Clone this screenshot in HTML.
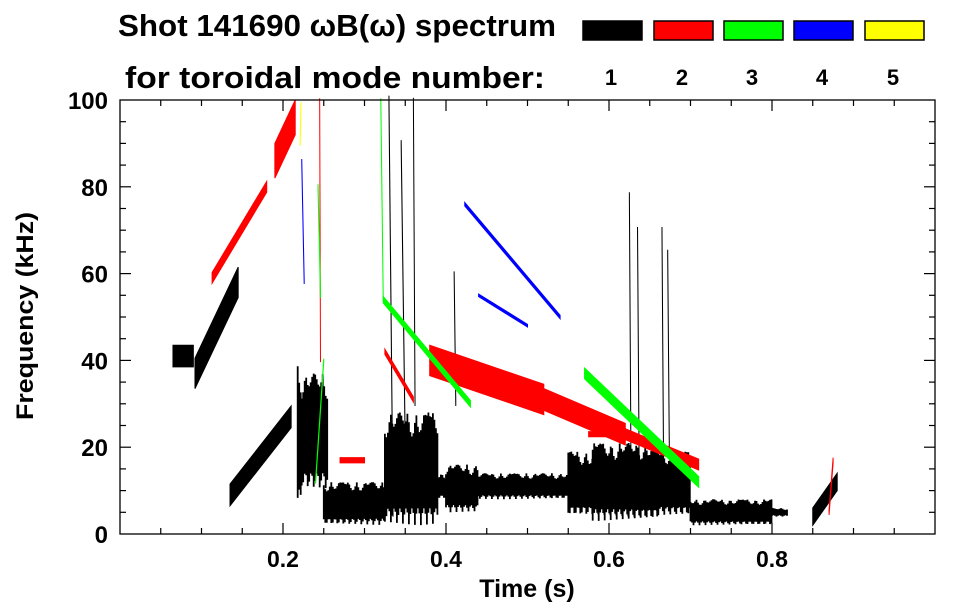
<!DOCTYPE html>
<html><head><meta charset="utf-8"><style>
html,body{margin:0;padding:0;background:#fff;}
svg{display:block;font-family:"Liberation Sans",sans-serif;font-weight:bold;}
</style></head><body>
<svg id="c" width="963" height="615" viewBox="0 0 963 615">
<text x="118" y="36" font-size="31" textLength="438" lengthAdjust="spacingAndGlyphs">Shot 141690 ωB(ω) spectrum</text>
<text x="125" y="88" font-size="31" textLength="420" lengthAdjust="spacingAndGlyphs">for toroidal mode number:</text>
<g id="plot"></g>
<g id="axes"></g>
<g id="legend"></g>
<text x="527" y="597" font-size="25" text-anchor="middle">Time (s)</text>
<text transform="translate(33,316) rotate(-90)" font-size="24" text-anchor="middle" textLength="208" lengthAdjust="spacingAndGlyphs">Frequency (kHz)</text>
</svg>
<script>
// mode colors / legend
const modes = [1,2,3,4,5];
const modeColors = ["#000000","#ff0000","#00ff00","#0000ff","#ffff00"];
const xTicks = [0.2,0.4,0.6,0.8];
const yTicks = [0,20,40,60,80,100];
// streaks: [t0, f0, t1, f1, widthKHz]
const blackStreaks = [[0.065,41,0.09,41,5],[0.092,37,0.145,58,7],[0.135,9,0.21,27,5],[0.33,100,0.335,5,2],[0.345,90,0.35,20,1.5],[0.36,100,0.362,30,1],[0.41,60,0.412,30,1],[0.625,78,0.627,15,1.5],[0.635,70,0.637,15,1.5],[0.665,70,0.667,15,1.5],[0.672,65,0.674,20,1],[0.85,4,0.88,12,4]];
// blocks: [t0, t1, fLow, fHigh]
const blackBlocks = [[0.218,0.223,5,40],[0.223,0.255,10,37],[0.25,0.325,2,12],[0.325,0.39,2,28],[0.39,0.55,8,14],[0.4,0.44,5,16],[0.55,0.70,4,19],[0.58,0.66,3,21],[0.70,0.80,2,8],[0.80,0.82,4,6]];
const redStreaks = [[0.113,59,0.18,80,2.5],[0.19,86,0.215,96,8],[0.245,100,0.246,40,0.8],[0.325,42,0.36,31,1.2],[0.38,40,0.52,31,7],[0.52,31,0.62,23,5],[0.62,23,0.71,16,2.5],[0.575,23,0.62,23,1.2],[0.27,17,0.3,17,1.2],[0.87,5,0.875,17,1.2]];
const greenStreaks = [[0.32,100,0.323,54,0.8],[0.323,54,0.43,30,1.5],[0.243,80,0.246,55,1.2],[0.57,37,0.71,12,2.5],[0.24,12,0.25,40,0.8]];
const blueStreaks = [[0.423,76,0.54,50,0.8],[0.223,86,0.226,58,0.8],[0.44,55,0.5,48,0.6]];
const yellowStreaks = [[0.221,90,0.222,99,1]];

const X0=120,X1=935,Y0=534,Y1=100;
const sx=t=>X0+(X1-X0)*t/1.0;
const sy=f=>Y0-(Y0-Y1)*f/100;
const NS="http://www.w3.org/2000/svg";
const plot=document.getElementById('plot');
function mk(tag,attrs,parent){const e=document.createElementNS(NS,tag);for(const k in attrs)e.setAttribute(k,attrs[k]);parent.appendChild(e);return e;}

function drawStreaks(arr,color,name){
  arr.forEach(s=>{
    const [t0,f0,t1,f1,w]=s;
    const pts=[[sx(t0),sy(f0+w/2)],[sx(t1),sy(f1+w/2)],[sx(t1),sy(f1-w/2)],[sx(t0),sy(f0-w/2)]];
    const p=mk('polygon',{points:pts.map(p=>p.join(',')).join(' '),fill:color,stroke:color,'stroke-width':1},plot);
    
    
  });
}
blackBlocks.forEach(b=>{
  const [t0,t1,fl,fh]=b;
  const xa=sx(t0), xb=sx(t1), top=sy(fh), bot=sy(fl), h=bot-top;
  const g=mk('g',{},plot);
  
  
  let d='';
  for(let x=xa;x<xb;x+=1.5){
    const k=Math.abs(Math.sin(x*0.37))*Math.abs(Math.sin(x*0.11));
    const y1=top+h*0.22*k, y2=bot-h*0.15*Math.abs(Math.sin(x*0.53));
    d+=`M${x.toFixed(1)},${y1.toFixed(1)}V${y2.toFixed(1)}`;
  }
  mk('path',{d:d,stroke:'#000','stroke-width':1.8,fill:'none'},g);
});
drawStreaks(blackStreaks,'#000','mode1-streak');
drawStreaks(redStreaks,'#ff0000','mode2-streak');
drawStreaks(greenStreaks,'#00ff00','mode3-streak');
drawStreaks(blueStreaks,'#0000ff','mode4-streak');
drawStreaks(yellowStreaks,'#ffff00','mode5-streak');

// axes
const ax=document.getElementById('axes');
const fr=mk('rect',{x:X0,y:Y1,width:X1-X0,height:Y0-Y1,fill:'none',stroke:'#000','stroke-width':1.3},ax);


for(let i=1;i<20;i++){const t=i*0.05;const major=Math.abs(t*5-Math.round(t*5))<1e-6;const L=major?11:6;
  mk('line',{x1:sx(t),x2:sx(t),y1:Y0,y2:Y0-L,stroke:'#000','stroke-width':1.2},ax);
  mk('line',{x1:sx(t),x2:sx(t),y1:Y1,y2:Y1+L,stroke:'#000','stroke-width':1.2},ax);}
for(let f=5;f<100;f+=5){const major=f%20===0;const L=major?11:6;
  mk('line',{x1:X0,x2:X0+L,y1:sy(f),y2:sy(f),stroke:'#000','stroke-width':1.2},ax);
  mk('line',{x1:X1,x2:X1-L,y1:sy(f),y2:sy(f),stroke:'#000','stroke-width':1.2},ax);}
xTicks.forEach(t=>{const e=mk('text',{x:sx(t),y:567,'font-size':23,'text-anchor':'middle'},ax);e.textContent=t.toFixed(1);
  
  });
yTicks.forEach(f=>{const e=mk('text',{x:108,y:sy(f)+9,'font-size':24,'text-anchor':'end'},ax);e.textContent=f;
  
  });

// legend
const lg=document.getElementById('legend');
const lx=[582,653,723,793,864];
modes.forEach((m,i)=>{
  const r=mk('rect',{x:lx[i]+1,y:21,width:59,height:19,fill:modeColors[i],stroke:'#000','stroke-width':1.5},lg);
  
  
  const t=mk('text',{x:lx[i]+29,y:85,'font-size':22,'text-anchor':'middle'},lg);t.textContent=m;
  
  
});
</script>
</body></html>
